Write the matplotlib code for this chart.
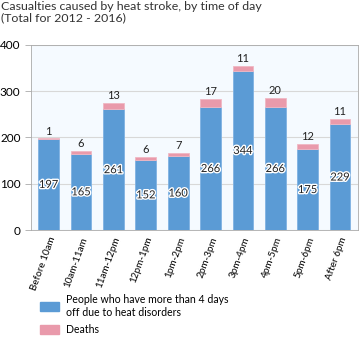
import numpy as np
import matplotlib.pyplot as plt
import matplotlib.patheffects as pe
from matplotlib.patches import Patch

plt.rcParams['font.family'] = ['Lato', 'DejaVu Sans']

# ── Datos ─────────────────────────────────────────────────────────────────────
franjas = ['Before 10am', '10am-11am', '11am-12pm', '12pm-1pm', '1pm-2pm',
           '2pm-3pm', '3pm-4pm', '4pm-5pm', '5pm-6pm', 'After 6pm']
bajas   = [197, 165, 261, 152, 160, 266, 344, 266, 175, 229]
muertes = [1, 6, 13, 6, 7, 17, 11, 20, 12, 11]

azul = '#5b9bd5'
rosa = '#e99aab'

fig = plt.figure(figsize=(3.64, 3.37), dpi=100)
ax = fig.add_axes([0.085, 0.3175, 0.898, 0.549])
ax.set_facecolor('#f5faff')

x = np.arange(len(franjas))
ax.bar(x, bajas, 0.64, color=azul, edgecolor='#7fb2e3', lw=0.6, zorder=3)
ax.bar(x, muertes, 0.64, bottom=bajas, color=rosa, edgecolor='#f0b8c4', lw=0.6, zorder=3)

halo = [pe.withStroke(linewidth=2, foreground='white')]
for xi, b, m in zip(x, bajas, muertes):
    ax.text(xi, b / 2, str(b), ha='center', va='center', fontsize=8,
            color='#222222', path_effects=halo, zorder=5)
    ax.text(xi, b + m + 4, str(m), ha='center', va='bottom', fontsize=8,
            color='#222222', zorder=5)

ax.set_xlim(-0.55, len(franjas) - 0.45)
ax.set_ylim(0, 400)
ax.set_yticks([0, 100, 200, 300, 400])
ax.set_xticks(x)
ax.set_xticklabels(franjas, rotation=70, ha='right', rotation_mode='anchor', fontsize=7.1)
ax.tick_params(axis='y', labelsize=8.5, length=4, color='#aaaaaa', width=0.6)
ax.tick_params(axis='x', length=0, pad=4)
ax.grid(axis='y', color='#d8d8d8', lw=0.8, zorder=0)
for s in ax.spines.values():
    s.set_color('#aaaaaa')
    s.set_linewidth(0.6)

fig.text(0.003, 0.997, 'Casualties caused by heat stroke, by time of day\n(Total for 2012 - 2016)',
         ha='left', va='top', fontsize=8.9, color='#333333', linespacing=1.05)

fig.legend(handles=[Patch(color=azul, label='People who have more than 4 days\noff due to heat disorders'),
                    Patch(color=rosa, label='Deaths')],
           loc='lower left', bbox_to_anchor=(0.085, -0.022), frameon=False, fontsize=7.6,
           handlelength=1.75, handleheight=0.9, labelspacing=0.6, handletextpad=0.7)

plt.savefig('out.png', dpi=100)
